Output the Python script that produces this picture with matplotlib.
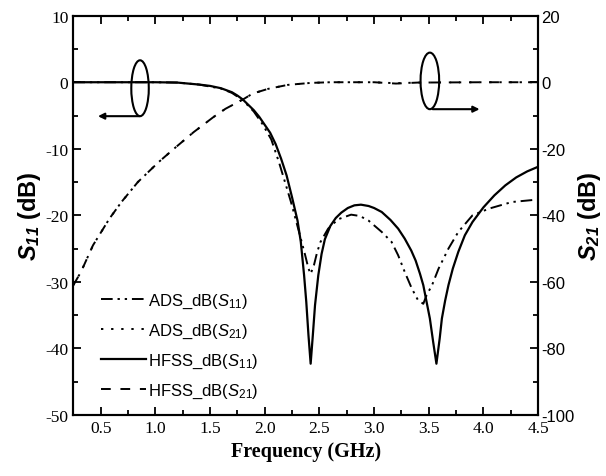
import numpy as np
import matplotlib
matplotlib.use("Agg")
import matplotlib.pyplot as plt
from matplotlib.patches import Ellipse
from matplotlib.ticker import MultipleLocator

plt.rcParams['axes.unicode_minus'] = False
plt.rcParams['mathtext.fontset'] = 'custom'
plt.rcParams['mathtext.rm'] = 'Liberation Sans'
plt.rcParams['mathtext.it'] = 'Liberation Sans:italic'
plt.rcParams['mathtext.bf'] = 'Liberation Sans:bold'
plt.rcParams['mathtext.bfit'] = 'Liberation Sans:italic:bold'

# HFSS S11 (left axis)
f_hfss11 = [0.25, 0.5, 0.75, 1.0, 1.2, 1.4, 1.5, 1.6, 1.7, 1.75, 1.8, 1.85, 1.9, 1.95, 2.0,
            2.05, 2.1, 2.15, 2.2, 2.25, 2.3, 2.33, 2.36, 2.38, 2.40, 2.42, 2.44, 2.46, 2.49,
            2.52, 2.55, 2.6, 2.65, 2.7, 2.76, 2.82, 2.88, 2.95, 3.0, 3.07, 3.15, 3.22, 3.28,
            3.34, 3.38, 3.42, 3.45, 3.48, 3.51, 3.54, 3.57, 3.60, 3.62, 3.65, 3.68, 3.72,
            3.77, 3.83, 3.9, 4.0, 4.1, 4.2, 4.3, 4.4, 4.5]
s11_hfss = [0, 0, 0, 0, -0.05, -0.35, -0.55, -0.9, -1.5, -2.0, -2.6, -3.4, -4.2, -5.2, -6.4,
            -7.6, -9.3, -11.5, -14.0, -17.3, -20.8, -24.0, -29.0, -33.0, -38.0, -42.3, -38.0,
            -33.5, -29.0, -25.8, -23.6, -21.6, -20.4, -19.6, -18.9, -18.5, -18.4, -18.6, -18.9,
            -19.5, -20.7, -22.0, -23.5, -25.3, -26.8, -28.8, -30.5, -33.0, -35.5, -39.0, -42.3,
            -38.5, -35.5, -32.8, -30.5, -28.0, -25.5, -23.0, -21.0, -18.8, -17.0, -15.5, -14.3,
            -13.4, -12.7]

# ADS S11 (left axis)
f_ads11 = [0.25, 0.5, 0.75, 1.0, 1.2, 1.4, 1.6, 1.7, 1.8, 1.9, 1.98, 2.06, 2.13, 2.2, 2.24,
           2.27, 2.33, 2.37, 2.4, 2.42, 2.45, 2.48, 2.51, 2.58, 2.67, 2.79, 2.87, 2.95, 3.07,
           3.16, 3.22, 3.28, 3.345, 3.40, 3.45, 3.48, 3.53, 3.59, 3.68, 3.77, 3.9, 4.05, 4.26,
           4.45, 4.5]
s11_ads = [0, 0, 0, 0, -0.05, -0.35, -0.95, -1.6, -2.7, -4.4, -6.3, -8.6, -12.0, -15.8, -18.0,
           -19.8, -23.5, -26.0, -28.0, -28.8, -27.5, -25.5, -24.0, -22.0, -20.6, -19.9, -20.1,
           -20.8, -22.5, -24.0, -26.0, -28.5, -31.0, -32.7, -33.3, -32.0, -30.5, -28.0, -25.0,
           -22.5, -20.0, -19.0, -18.0, -17.7, -17.6]

# S21 (right axis)
f_s21 = [0.25, 0.32, 0.43, 0.58, 0.69, 0.84, 1.03, 1.17, 1.35, 1.53, 1.64, 1.81, 1.89, 2.03,
         2.21, 2.42, 2.6, 3.0, 3.2, 3.4, 4.0, 4.5]
s21_ads = [-61, -57, -49, -41, -36, -30, -24, -20, -15, -10.5, -8, -5, -3.4, -2, -0.8, -0.2,
           0, 0, -0.3, -0.1, 0, 0]
s21_hfss = [-61, -57, -49, -41, -36, -30, -24, -20, -15, -10.5, -8, -5, -3.4, -2, -0.8, -0.2,
            0, 0, -0.4, -0.1, 0, 0]

fig = plt.figure(figsize=(6.06, 4.77), dpi=100)
ax = fig.add_axes([0.121, 0.128, 0.767, 0.837])
ax2 = ax.twinx()

l1, = ax.plot(f_ads11, s11_ads, color='k', lw=1.4, ls=(0, (6, 2.5, 1.2, 2.5, 1.2, 2.5)),
              label=r'ADS_dB($\mathit{S}_{\mathit{11}}$)')
l2, = ax2.plot(f_s21, s21_ads, color='k', lw=1.4, ls=(0, (1.2, 4)),
               label=r'ADS_dB($\mathit{S}_{\mathit{21}}$)')
l3, = ax.plot(f_hfss11, s11_hfss, color='k', lw=1.6, ls='-',
              label=r'HFSS_dB($\mathit{S}_{\mathit{11}}$)')
l4, = ax2.plot(f_s21, s21_hfss, color='k', lw=1.4, ls=(0, (5, 5)),
               label=r'HFSS_dB($\mathit{S}_{\mathit{21}}$)')

ax.set_xlim(0.25, 4.5)
ax.set_ylim(-50, 10)
ax2.set_ylim(-100, 20)

ax.xaxis.set_major_locator(MultipleLocator(0.5))
ax.xaxis.set_minor_locator(MultipleLocator(0.25))
ax.yaxis.set_major_locator(MultipleLocator(10))
ax.yaxis.set_minor_locator(MultipleLocator(5))
ax2.yaxis.set_major_locator(MultipleLocator(20))
ax2.yaxis.set_minor_locator(MultipleLocator(10))
ax.set_xticks(np.arange(0.5, 4.51, 0.5))
ax.set_xticklabels(['%.1f' % v for v in np.arange(0.5, 4.51, 0.5)])

ax.tick_params(which='both', direction='in', top=True, width=1.3)
ax.tick_params(which='major', length=6)
ax.tick_params(which='minor', length=3.5)
ax2.tick_params(which='both', direction='in', width=1.3)
ax2.tick_params(which='major', length=6, pad=2)
ax2.tick_params(which='minor', length=3.5)
for lab in ax.get_xticklabels() + ax.get_yticklabels():
    lab.set_fontfamily('Liberation Serif')
    lab.set_fontsize(12.5)
for lab in ax2.get_yticklabels():
    lab.set_fontfamily('Liberation Sans')
    lab.set_fontsize(12)
for a in (ax, ax2):
    for s in a.spines.values():
        s.set_linewidth(1.5)

ax.set_xlabel('Frequency (GHz)', fontfamily='Liberation Serif', fontweight='bold',
              fontsize=14.5, labelpad=4)
ax.set_ylabel(r'$\mathbfit{S}_{\mathbfit{11}}$ (dB)', fontfamily='Liberation Sans',
              fontweight='bold', fontsize=17, labelpad=2)
ax2.set_ylabel(r'$\mathbfit{S}_{\mathbfit{21}}$ (dB)', fontfamily='Liberation Sans',
               fontweight='bold', fontsize=17, labelpad=1)

# port markers
ax.add_patch(Ellipse((0.86, -0.9), 0.16, 8.4, fill=False, lw=1.5, color='k'))
ax.annotate('', xy=(0.45, -5.1), xytext=(0.88, -5.1),
            arrowprops=dict(arrowstyle='-|>', lw=1.5, color='k', mutation_scale=9))
ax.add_patch(Ellipse((3.51, 0.2), 0.17, 8.5, fill=False, lw=1.5, color='k'))
ax.annotate('', xy=(3.99, -4.05), xytext=(3.51, -4.05),
            arrowprops=dict(arrowstyle='-|>', lw=1.5, color='k', mutation_scale=9))

ax.legend(handles=[l1, l2, l3, l4], loc='lower left', bbox_to_anchor=(0.045, 0.02),
          frameon=False, prop={'family': 'Liberation Sans', 'size': 12},
          handlelength=2.7, handletextpad=0.1, labelspacing=0.7, borderaxespad=0)

fig.savefig('out.png', dpi=100)
